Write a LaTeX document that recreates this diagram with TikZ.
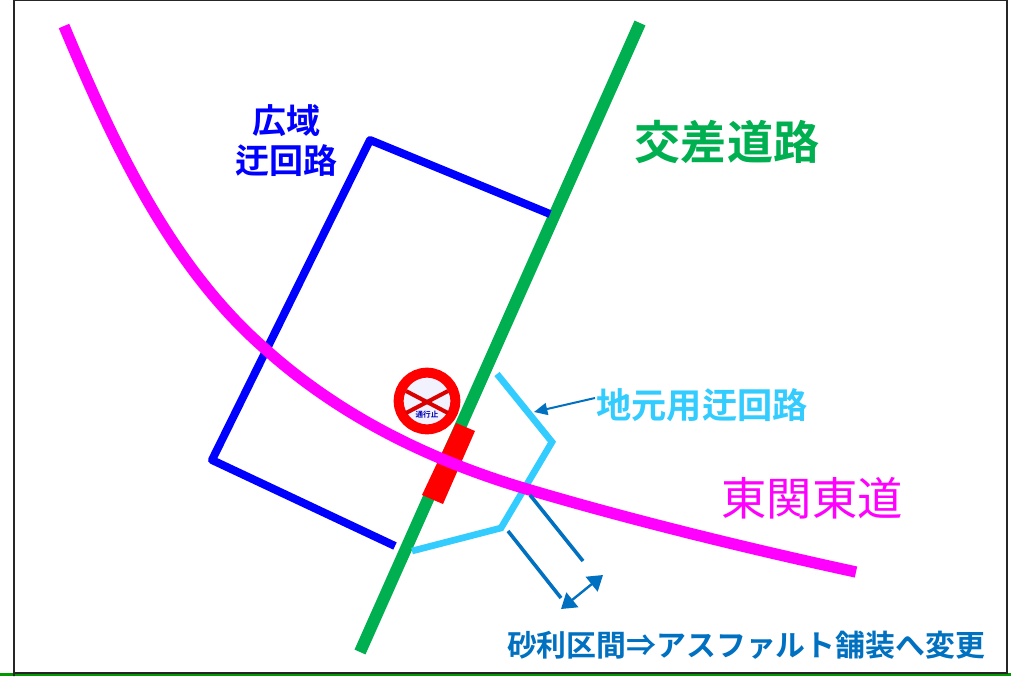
\documentclass[tikz,border=0pt]{standalone}
\usepackage{fontspec}
\usepackage{tikz}
\usetikzlibrary{
    calc,
    arrows.meta
}
\setmainfont{Noto Sans CJK JP}[BoldFont={Noto Sans CJK JP Bold}]
\definecolor{road}{RGB}{0,176,80}
\definecolor{detour}{RGB}{0,0,255}
\definecolor{local}{RGB}{51,204,255}
\definecolor{gravel}{RGB}{0,112,192}
\definecolor{expy}{RGB}{255,0,255}
\tikzset{
    label/.style={inner sep=0pt,align=center},
    ln/.style={line width=6pt,line cap=butt},
    tipbig/.style={{Triangle[length=11pt,width=14pt]}-{Triangle[length=11pt,width=14pt]}}
}

\begin{document}
\begin{tikzpicture}[x=0.75pt,y=-0.75pt]
        \useasboundingbox (0,0) rectangle (1011,676);
        \fill[white] (0,0) rectangle (1011,676);
        \fill[green!60!black] (0,673) rectangle (1011,676);
        \draw[line width=1.8pt,black!85] (14,676) -- (14,673) -- (1007,673) -- (1007,0) -- (14,0) -- cycle;

        % roads
        \coordinate (ra) at (640,23);
        \coordinate (rb) at (360,652);
        \draw[ln,road,line width=9pt] (ra) -- (rb);

        \coordinate (wa) at (395,546);
        \coordinate (wb) at (212,460);
        \coordinate (wc) at (370,140);
        \coordinate (wd) at (550,214);
        \draw[ln,detour,line join=round] (wa) -- (wb) -- (wc) -- (wd);

        \coordinate (la) at (412,551);
        \coordinate (lb) at (501,528);
        \coordinate (lc) at (552,442);
        \coordinate (ld) at (497,374);
        \draw[ln,local,line width=5pt] (la) -- (lb) -- (lc) -- (ld);

        % closed part
        \fill[red] (456,423) -- (475,431) -- (443,504) -- (422,495) -- cycle;

        \draw[ln,expy,line width=8.5pt] (64,26)
            .. controls (112,140) and (168,263) .. (263,347)
            .. controls (339,416) and (431,461) .. (530,490)
            .. controls (635,521) and (750,549) .. (856,572);

        % no entry sign
        \node[circle,draw=red,line width=7.5pt,fill=white!95!blue,minimum size=42.5pt,inner sep=0pt] (sign) at (427,401) {};
        \draw[red!85!black,line width=3pt] (406,391) -- (448,413);
        \draw[red!85!black,line width=3pt] (448,391) -- (406,413);
        \node[font=\bfseries\fontsize{5.7}{6}\selectfont,text=blue!70!black,inner sep=0pt] (signtxt) at (427,415) {通行止};

        % gravel part
        \coordinate (ga) at (530,495);
        \coordinate (gb) at (583,561);
        \coordinate (gc) at (508,531);
        \coordinate (gd) at (561,598);
        \draw[gravel,line width=2.7pt] (ga) -- (gb);
        \draw[gravel,line width=2.7pt] (gc) -- (gd);
        \coordinate (ge) at (561,609);
        \coordinate (gf) at (603,575);
        \draw[tipbig,gravel,line width=1.8pt] (ge) -- (gf);

        % labels
        \node[label,text=detour,font=\bfseries\fontsize{25.5}{30}\selectfont] (wide) at (286,141) {広域\\迂回路};
        \node[label,text=road,font=\bfseries\fontsize{34.6}{35}\selectfont] (cross) at (727,142) {交差道路};
        \node[label,text=expy,font=\fontsize{34}{34}\selectfont] (east) at (812,498) {東関東道};
        \node[label,text=local,font=\bfseries\fontsize{26.4}{27}\selectfont] (near) at (702,405) {地元用迂回路};
        \node[label,text=gravel,font=\bfseries\fontsize{22.4}{23}\selectfont] (change) at (746,645) {砂利区間⇒アスファルト舗装へ変更};

        \coordinate (nt) at (534,412);
        \coordinate (ns) at (595,398);
        \draw[-{Triangle[length=10pt,width=9pt]},gravel,line width=1.5pt] (ns) -- (nt);
    \end{tikzpicture}
\end{document}
